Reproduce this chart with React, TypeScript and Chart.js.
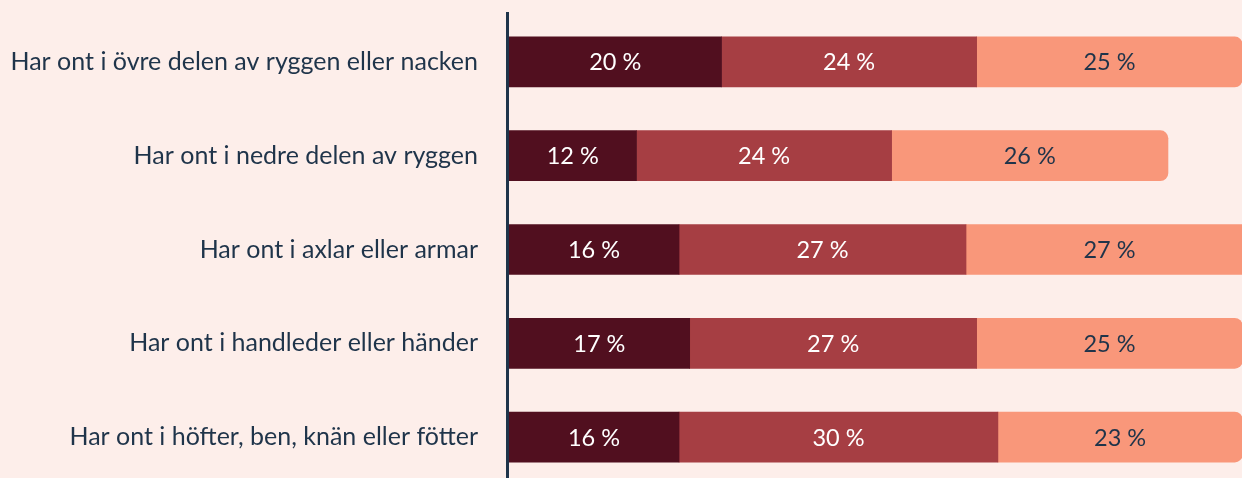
import React, { useEffect, useRef } from "react";
import { Chart, registerables } from "chart.js";

Chart.register(...registerables);

const categories = [
  "Har ont i övre delen av ryggen eller nacken",
  "Har ont i nedre delen av ryggen",
  "Har ont i axlar eller armar",
  "Har ont i handleder eller händer",
  "Har ont i höfter, ben, knän eller fötter",
];
const seriesA = [20, 12, 16, 17, 16];
const seriesB = [24, 24, 27, 27, 30];
const seriesC = [25, 26, 27, 25, 23];

const BG = "#fdeeea";
const NAVY = "#1f344a";
const COLORS = ["#510f1f", "#a63e43", "#f9977a"];
const TEXT_COLORS = ["#ffffff", "#ffffff", NAVY];
const FONT = "Lato, 'Noto Sans', sans-serif";

const axisLine = {
  id: "axisLine",
  beforeDatasetsDraw(chart: any) {
    const { ctx, chartArea } = chart;
    ctx.save();
    ctx.strokeStyle = NAVY;
    ctx.lineWidth = 3;
    ctx.beginPath();
    ctx.moveTo(chartArea.left - 1.5, 12);
    ctx.lineTo(chartArea.left - 1.5, chart.height);
    ctx.stroke();
    ctx.restore();
  },
};

const valueLabels = {
  id: "valueLabels",
  afterDatasetsDraw(chart: any) {
    const { ctx } = chart;
    ctx.save();
    ctx.font = `23.5px ${FONT}`;
    ctx.textAlign = "center";
    ctx.textBaseline = "middle";
    chart.data.datasets.forEach((ds: any, di: number) => {
      const meta = chart.getDatasetMeta(di);
      meta.data.forEach((bar: any, i: number) => {
        const v = ds.data[i];
        const cx = (bar.x + bar.base) / 2;
        ctx.fillStyle = TEXT_COLORS[di];
        ctx.fillText(`${v} %`, cx, bar.y + 1);
      });
    });
    ctx.restore();
  },
};

export default function App() {
  const ref = useRef<HTMLCanvasElement>(null);
  useEffect(() => {
    if (!ref.current) return;
    const chart = new Chart(ref.current, {
      type: "bar",
      data: {
        labels: categories,
        datasets: [seriesA, seriesB, seriesC].map((d, i) => ({
          label: `s${i}`,
          data: d,
          backgroundColor: COLORS[i],
          borderWidth: 0,
          barThickness: 50,
          borderRadius: i === 2 ? 8 : 0,
          borderSkipped: "start",
        })),
      },
      options: {
        indexAxis: "y",
        animation: false,
        responsive: false,
        maintainAspectRatio: false,
        layout: { padding: { top: 15, bottom: 0, left: 0, right: 0 } },
        plugins: {
          legend: { display: false },
          tooltip: { enabled: false },
        },
        scales: {
          x: {
            stacked: true,
            min: 0,
            max: 70,
            display: false,
          },
          y: {
            stacked: true,
            afterFit: (scale: any) => {
              scale.width = 509;
              scale.paddingTop = 0;
              scale.paddingBottom = 0;
            },
            grid: { display: false, drawTicks: false },
            border: { display: false },
            ticks: {
              padding: 31,
              color: NAVY,
              font: { size: 25, family: FONT },
            },
          },
        },
      },
      plugins: [axisLine, valueLabels],
    });
    return () => chart.destroy();
  }, []);
  return (
    <div
      style={{
        position: "fixed",
        left: 0,
        top: 0,
        width: 1242,
        height: 478,
        overflow: "hidden",
        background: BG,
      }}
    >
      <canvas ref={ref} width={1253} height={484} style={{ display: "block" }} />
    </div>
  );
}
